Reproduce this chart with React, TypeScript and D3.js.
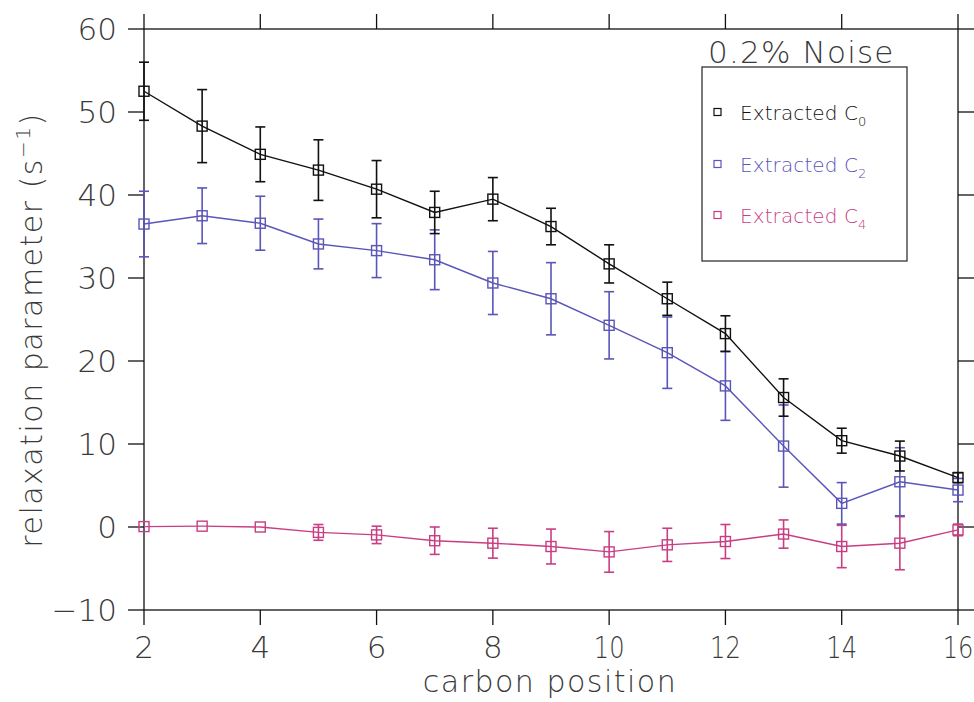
import React from "react";
import * as d3 from "d3";

const positions = [2, 3, 4, 5, 6, 7, 8, 9, 10, 11, 12, 13, 14, 15, 16];
const c0Values = [52.5, 48.3, 44.9, 43.0, 40.7, 37.9, 39.5, 36.2, 31.7, 27.5, 23.3, 15.6, 10.4, 8.55, 5.95];
const c0Errors = [3.5, 4.4, 3.3, 3.65, 3.45, 2.55, 2.6, 2.2, 2.3, 2.0, 2.15, 2.25, 1.5, 1.8, 0.6];
const c2Values = [36.5, 37.5, 36.6, 34.1, 33.3, 32.2, 29.4, 27.5, 24.3, 21.0, 17.0, 9.75, 2.85, 5.45, 4.45];
const c2Errors = [3.95, 3.35, 3.25, 3.0, 3.25, 3.6, 3.8, 4.35, 4.05, 4.3, 4.15, 4.95, 2.5, 4.1, 1.4];
const c4Values = [0.05, 0.1, 0.0, -0.65, -0.95, -1.65, -1.95, -2.35, -3.0, -2.15, -1.75, -0.85, -2.35, -1.95, -0.35];
const c4Errors = [0, 0, 0, 0.95, 1.05, 1.65, 1.8, 2.1, 2.45, 2.0, 2.05, 1.7, 2.55, 3.2, 0.7];

const xTicks = [2, 4, 6, 8, 10, 12, 14, 16];
const yTicks = [-10, 0, 10, 20, 30, 40, 50, 60];
const seriesNames = ["Extracted C", "Extracted C", "Extracted C"];
const seriesSubs = ["0", "2", "4"];
const legendTitle = "0.2% Noise";
const xTitle = "carbon position";
const yTitle = "relaxation parameter (s";

const colors = ["#111111", "#5a55b8", "#c93d83"];
const FONT = "'DejaVu Sans', sans-serif";

export default function App() {
  const left = 144, right = 958, top = 29, bottom = 610;
  const x = d3.scaleLinear().domain([2, 16]).range([left, right]);
  const y = d3.scaleLinear().domain([-10, 60]).range([bottom, top]);
  const line = d3
    .line<[number, number]>()
    .x((d) => x(d[0]))
    .y((d) => y(d[1]));

  const series = [
    { vals: c4Values, errs: c4Errors, color: colors[2] },
    { vals: c2Values, errs: c2Errors, color: colors[1] },
    { vals: c0Values, errs: c0Errors, color: colors[0] },
  ];
  const tick = 15;
  const cap = 5;
  const ms = 10;
  const textColor = "#3a3a3a";

  return (
    <svg
      width={974}
      height={702}
      style={{ position: "absolute", left: 0, top: 0, background: "#fff" }}
      fontFamily={FONT}
    >
      {/* frame */}
      <rect x={left} y={top} width={right - left} height={bottom - top} fill="none" stroke="#111" strokeWidth={1.3} />
      {/* x ticks */}
      {xTicks.map((t) => {
        const lbl = String(t);
        const narrow = lbl.startsWith("1") && lbl.length === 2;
        return (
          <g key={"xt" + t}>
            <line x1={x(t)} x2={x(t)} y1={bottom} y2={bottom + tick} stroke="#111" strokeWidth={1.3} />
            <line x1={x(t)} x2={x(t)} y1={top} y2={top - tick} stroke="#111" strokeWidth={1.3} />
            <text
              transform={`translate(${x(t)},658) scale(${narrow ? 0.78 : 1},1)`}
              textAnchor="middle"
              fontSize={31}
              fontWeight={200}
              fill={textColor}
            >
              {lbl}
            </text>
          </g>
        );
      })}
      {/* y ticks */}
      {yTicks.map((t) => {
        const lbl = t < 0 ? "\u2212" + Math.abs(t) : String(t);
        return (
          <g key={"yt" + t}>
            <line x1={left - 16} x2={left} y1={y(t)} y2={y(t)} stroke="#111" strokeWidth={1.3} />
            <line x1={right} x2={974} y1={y(t)} y2={y(t)} stroke="#111" strokeWidth={1.3} />
            <text x={117} y={y(t) + 11} textAnchor="end" fontSize={31} fontWeight={200} fill={textColor}>
              {lbl}
            </text>
          </g>
        );
      })}
      {/* axis titles */}
      <text x={550} y={692} textAnchor="middle" fontSize={30} fontWeight={200} fill={textColor} letterSpacing={1.5}>
        {xTitle}
      </text>
      <text
        transform={`translate(42,${330}) rotate(-90)`}
        textAnchor="middle"
        fontSize={30}
        fontWeight={200}
        fill={textColor}
        letterSpacing={1.5}
      >
        {yTitle}
        <tspan fontSize={20} dy={-12}>{"\u2212"}1</tspan>
        <tspan dy={12}>)</tspan>
      </text>
      {/* series */}
      {series.map((s, si) => {
        const pts: [number, number][] = positions.map((p, i) => [p, s.vals[i]]);
        return (
          <g key={"s" + si}>
            <path d={line(pts) || ""} fill="none" stroke={s.color} strokeWidth={1.4} />
            {positions.map((p, i) =>
              s.errs[i] > 0 ? (
                <g key={"e" + i} stroke={s.color} strokeWidth={1.6}>
                  <line x1={x(p)} x2={x(p)} y1={y(s.vals[i] + s.errs[i])} y2={y(s.vals[i] - s.errs[i])} />
                  <line x1={x(p) - cap} x2={x(p) + cap} y1={y(s.vals[i] + s.errs[i])} y2={y(s.vals[i] + s.errs[i])} />
                  <line x1={x(p) - cap} x2={x(p) + cap} y1={y(s.vals[i] - s.errs[i])} y2={y(s.vals[i] - s.errs[i])} />
                </g>
              ) : null
            )}
            {positions.map((p, i) => (
              <rect
                key={"m" + i}
                x={x(p) - ms / 2}
                y={y(s.vals[i]) - ms / 2}
                width={ms}
                height={ms}
                fill="none"
                stroke={s.color}
                strokeWidth={1.4}
              />
            ))}
          </g>
        );
      })}
      {/* legend */}
      <text x={708} y={63} fontSize={31} fontWeight={200} fill={textColor} letterSpacing={1.2}>
        {legendTitle}
      </text>
      <rect x={702} y={67} width={205} height={194} fill="#fff" stroke="#333" strokeWidth={1.3} />
      {[0, 1, 2].map((i) => {
        const ly = [112, 164, 215][i];
        return (
          <g key={"lg" + i}>
            <rect x={714} y={ly - 3.5} width={7} height={7} fill="none" stroke={colors[i]} strokeWidth={1.2} />
            <text x={740} y={ly + 8} fontSize={20} fontWeight={200} fill={colors[i]} letterSpacing={0.1}>
              {seriesNames[i]}
              <tspan fontSize={13} dy={6}>{seriesSubs[i]}</tspan>
            </text>
          </g>
        );
      })}
    </svg>
  );
}
